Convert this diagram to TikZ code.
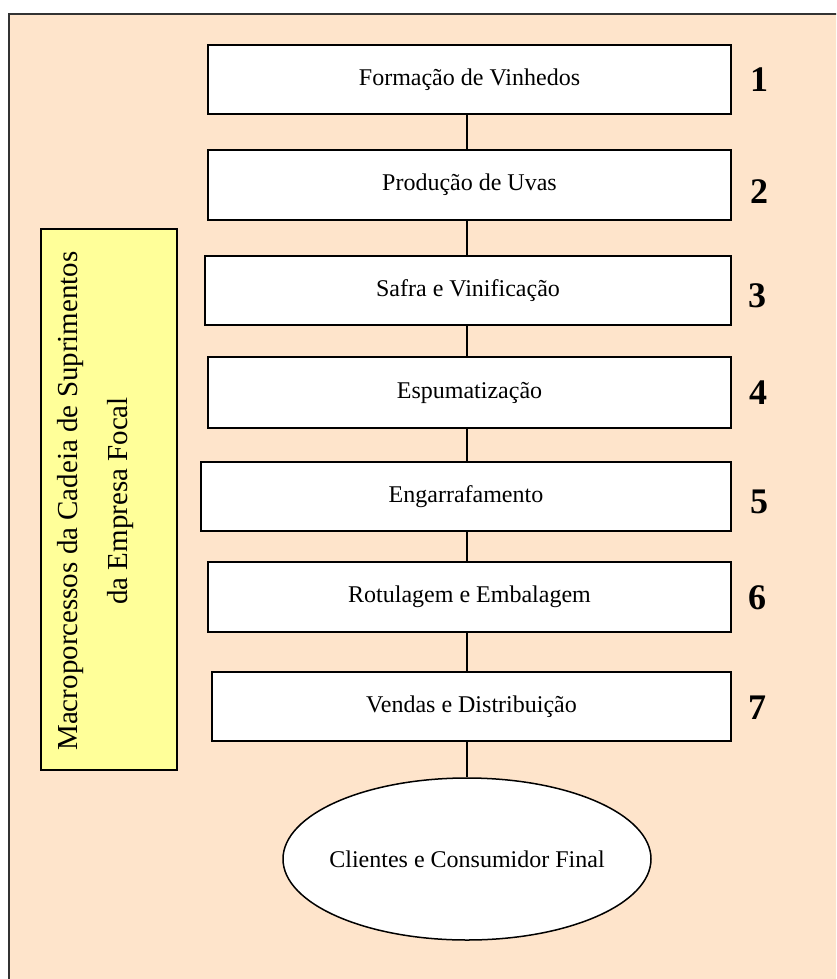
\documentclass[tikz,border=0pt]{standalone}
\usepackage{fontspec}
\setmainfont{Liberation Serif}
\usetikzlibrary{shapes.geometric}
\definecolor{peach}{RGB}{254,228,203}
\definecolor{paleyellow}{RGB}{255,255,153}
\begin{document}
\begin{tikzpicture}[x=1pt,y=-1pt,
  stagebox/.style={draw=black, line width=1.5pt, fill=white, inner sep=0pt,
    font=\fontsize{24}{28}\selectfont},
  stagenum/.style={font=\fontsize{36}{40}\selectfont\bfseries, inner sep=0pt},
  sidebox/.style={draw=black, line width=1.5pt, fill=paleyellow, rotate=90, inner sep=0pt},
  sidelabel/.style={rotate=90, align=center, inner sep=0pt, font=\fontsize{29}{50}\selectfont},
  endnode/.style={draw=black, line width=1.5pt, fill=white, ellipse, inner xsep=-8pt, inner ysep=0pt,
    font=\fontsize{24}{28}\selectfont},
  link/.style={line width=1.3pt}]
\useasboundingbox (0,0) rectangle (836,979);
\clip (0,0) rectangle (836,979);
% background panel (continues past the right and bottom edges)
\draw[fill=peach, draw=black!80, line width=1.5pt] (9,14) rectangle (880,1010);

% stages of the chain
\node[stagebox, minimum width=523, minimum height=69] (b1) at (469.5,79.5) {Formação de Vinhedos};
\node[stagebox, minimum width=523, minimum height=70] (b2) at (469.5,185) {Produção de Uvas};
\node[stagebox, minimum width=526, minimum height=69] (b3) at (468,290.5) {Safra e Vinificação};
\node[stagebox, minimum width=523, minimum height=71] (b4) at (469.5,392.5) {Espumatização};
\node[stagebox, minimum width=530, minimum height=69] (b5) at (466,496.5) {Engarrafamento};
\node[stagebox, minimum width=523, minimum height=70] (b6) at (469.5,597) {Rotulagem e Embalagem};
\node[stagebox, minimum width=519, minimum height=69] (b7) at (471.5,706.5) {Vendas e Distribuição};

% final customer
\node[endnode, minimum width=368, minimum height=162] (end) at (467,859) {Clientes e Consumidor Final};

% stage numbers
\node[stagenum] (n1) at (759,80) {1};
\node[stagenum] (n2) at (759,192) {2};
\node[stagenum] (n3) at (757,296) {3};
\node[stagenum] (n4) at (758,393) {4};
\node[stagenum] (n5) at (759,502) {5};
\node[stagenum] (n6) at (757,598) {6};
\node[stagenum] (n7) at (757,708) {7};

% side label
\node[sidebox, minimum width=541, minimum height=136] (side) at (109,499.5) {};
\node[sidelabel] (sidetext) at (96,501) {Macroporcessos da Cadeia de Suprimentos\\da Empresa Focal};

% connectors
\draw[link] (b1.south -| end.north) -- (b2.north -| end.north);
\draw[link] (b2.south -| end.north) -- (b3.north -| end.north);
\draw[link] (b3.south -| end.north) -- (b4.north -| end.north);
\draw[link] (b4.south -| end.north) -- (b5.north -| end.north);
\draw[link] (b5.south -| end.north) -- (b6.north -| end.north);
\draw[link] (b6.south -| end.north) -- (b7.north -| end.north);
\draw[link] (b7.south -| end.north) -- (end.north);
\end{tikzpicture}
\end{document}
